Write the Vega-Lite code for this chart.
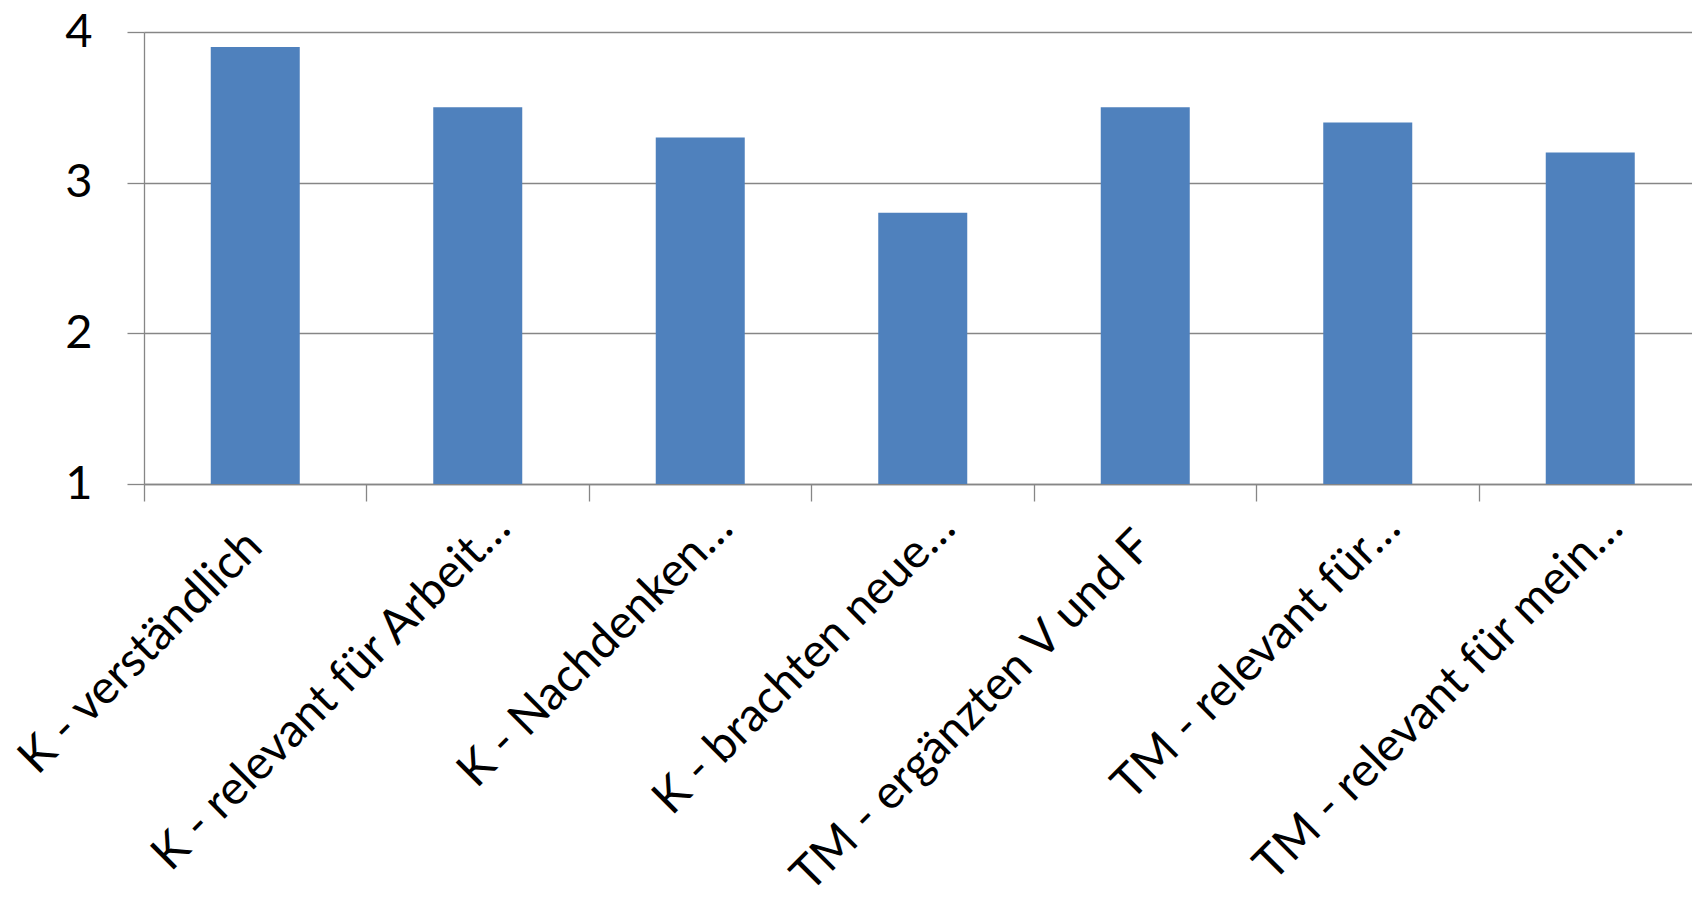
{
  "$schema": "https://vega.github.io/schema/vega-lite/v6.json",
  "autosize": {"type": "none"},
  "padding": {"left": 144, "top": 32, "right": 0, "bottom": 417},
  "width": 1548,
  "height": 452,
  "background": "white",
  "config": {
    "view": {"stroke": null},
    "font": "Lato"
  },
  "data": {
    "values": [
      {"kategorie": "K - verständlich", "wert": 3.9},
      {"kategorie": "K - relevant für Arbeit…", "wert": 3.5},
      {"kategorie": "K - Nachdenken…", "wert": 3.3},
      {"kategorie": "K - brachten neue…", "wert": 2.8},
      {"kategorie": "TM - ergänzten V und F", "wert": 3.5},
      {"kategorie": "TM - relevant für…", "wert": 3.4},
      {"kategorie": "TM - relevant für mein…", "wert": 3.2}
    ]
  },
  "mark": {"type": "bar", "color": "#4F81BD"},
  "encoding": {
    "x": {
      "field": "kategorie",
      "type": "nominal",
      "sort": null,
      "scale": {"range": [0, 1557.5], "paddingInner": 0.6, "paddingOuter": 0.3},
      "axis": {
        "title": null,
        "bandPosition": -0.75,
        "domainColor": "#868686",
        "domainWidth": 1.3,
        "tickColor": "#868686",
        "tickWidth": 1.3,
        "tickSize": 17,
        "grid": false,
        "labelAngle": -45,
        "labelAlign": "right",
        "labelBaseline": {"condition": {"test": "indexof(datum.label, '…') >= 0", "value": "alphabetic"}, "value": "line-top"},
        "labelLineHeight": 24,
        "labelFont": "Lato",
        "labelFontSize": 47,
        "labelColor": "black",
        "labelLimit": 1000,
        "labelOverlap": false,
        "labelPadding": 29,
        "labelOffset": {"condition": {"test": "indexof(datum.label, '…') >= 0", "value": 35}, "value": -9}
      }
    },
    "y": {
      "field": "wert",
      "type": "quantitative",
      "scale": {"domain": [1, 4], "zero": false, "nice": false},
      "axis": {
        "title": null,
        "values": [1, 2, 3, 4],
        "format": "d",
        "grid": true,
        "gridColor": "#868686",
        "gridWidth": 1.3,
        "domainColor": "#868686",
        "domainWidth": 1.3,
        "tickColor": "#868686",
        "tickWidth": 1.3,
        "tickSize": 17,
        "labelFont": "Lato",
        "labelFontSize": 47,
        "labelColor": "black",
        "labelPadding": 35
      }
    },
    "y2": {"datum": 1}
  }
}
